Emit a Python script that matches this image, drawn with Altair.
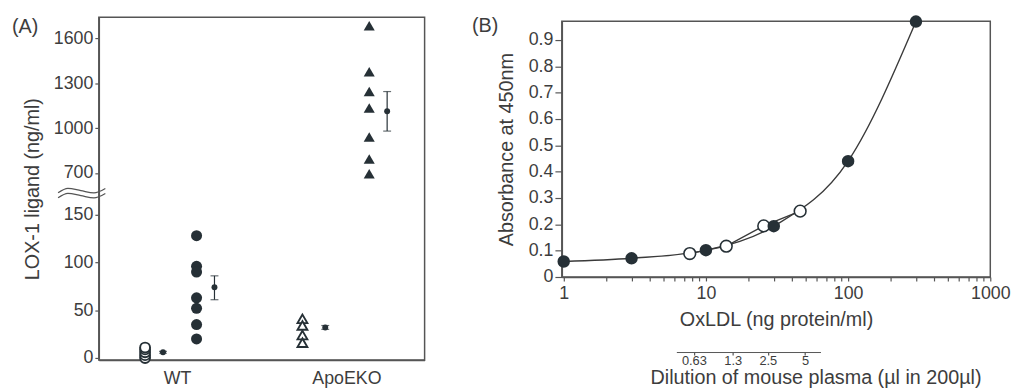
import altair as alt
import pandas as pd

# ---------------- Panel (A): LOX-1 ligand (ng/ml) ----------------
wt_ctrl_vals = [0, 3, 6, 9, 11]
wt_vals = [128, 96, 90, 63, 52, 35, 20]
apo_ctrl_vals = [41, 34, 24, 16]
apo_vals = [1684, 1376, 1244, 1134, 941, 794, 695]
mean_vals = [6, 74, 32, 1112]
mean_lo = [5, 61, 30, 980]
mean_hi = [7, 86, 34, 1244]
a_group_labels = ["WT", "ApoEKO"]
a_ticks_low = [0, 50, 100, 150]
a_ticks_high = [700, 1000, 1300, 1600]

# ---------------- Panel (B): ELISA standard curve ----------------
oxldl_ng = [1, 3, 10, 30, 100, 300]
oxldl_abs = [0.059, 0.071, 0.102, 0.193, 0.44, 0.97]
plasma_ul = [0.63, 1.3, 2.5, 5]
plasma_equiv_ng = [7.7, 13.9, 25.5, 46]
plasma_abs = [0.089, 0.117, 0.194, 0.25]
b_y_ticks = [0, 0.1, 0.2, 0.3, 0.4, 0.5, 0.6, 0.7, 0.8, 0.9]
b_x_decades = [1, 10, 100, 1000]

# ---------------- layout / style constants ----------------
SLOT_X = [1.42, 3.0, 6.25, 8.3]     # x slot of each strip
MEAN_X = [1.97, 3.55, 6.95, 8.85]   # x slot of each mean +/- SE
LABEL_X = [2.4, 7.6]
BREAK_AT = 300                       # broken axis: upper segment compressed
UP_V0, UP_D0, UP_K = 700, 193.6, 0.1567
SQ_X = [-1.25, -0.95, -0.55, -0.15, 0.2]
SQ_OFF = [-2.2, 2.4, 0.0, -2.4, 2.2]
SQ_CENTERS = [175.2, 170.0]

DARK = "#263036"
LINE = "#3a3a3a"
FRAME = "#555555"
TXT = "#3d3d3d"
FONT = "Liberation Sans"


def disp(v):
    return v if v <= BREAK_AT else UP_D0 + (v - UP_V0) * UP_K


def disp_expr(f):
    return f"datum.{f} <= {BREAK_AT} ? datum.{f} : {UP_D0} + (datum.{f} - {UP_V0}) * {UP_K}"


# ---------------- Panel A ----------------
def strip_df(vals, slot):
    return pd.DataFrame({"v": vals, "x": [slot] * len(vals)})

df_wt_ctrl = strip_df(wt_ctrl_vals, SLOT_X[0])
df_wt = strip_df(wt_vals, SLOT_X[1])
df_apo_ctrl = strip_df(apo_ctrl_vals, SLOT_X[2])
df_apo = strip_df(apo_vals, SLOT_X[3])
df_mean = pd.DataFrame({"x": MEAN_X, "v": mean_vals, "lo": mean_lo, "hi": mean_hi})

sq_rows = []
for i, c in enumerate(SQ_CENTERS):
    for xx, o in zip(SQ_X, SQ_OFF):
        sq_rows.append({"line": i, "x": xx, "yd": c + o})
df_sq = pd.DataFrame(sq_rows)

yA_scale = alt.Scale(domain=[-2, 356.5], nice=False, zero=False)
xA_scale = alt.Scale(domain=[0, 10], nice=False, zero=False)
label_expr_A = (
    f"datum.value < 180 ? format(datum.value, 'd') : "
    f"format(round((datum.value - {UP_D0}) / {UP_K} + {UP_V0}), 'd')"
)
yA_axis = alt.Axis(
    values=[disp(t) for t in a_ticks_low + a_ticks_high],
    labelExpr=label_expr_A,
    title="LOX-1 ligand (ng/ml)",
    tickSize=4, labelPadding=2, titlePadding=11,
)
xA_axis = alt.Axis(
    values=LABEL_X,
    labelExpr=f"datum.value < 5 ? '{a_group_labels[0]}' : '{a_group_labels[1]}'",
    ticks=False, labelPadding=10, title=None, labelFlush=False,
)

xA = alt.X("x:Q", scale=xA_scale, axis=xA_axis)
yA = alt.Y("yd:Q", scale=yA_scale, axis=yA_axis)


def pts(df, shape, hollow, size):
    if hollow:
        m = alt.Chart(df).mark_point(shape=shape, filled=True, fill="white", stroke=DARK,
                                     strokeWidth=1.9, size=size, opacity=1)
    else:
        m = alt.Chart(df).mark_point(shape=shape, filled=True, color=DARK, size=size, opacity=1)
    return m.transform_calculate(yd=disp_expr("v")).encode(x=xA, y=yA)


a_wt_ctrl = pts(df_wt_ctrl, "circle", True, 100)
a_wt = pts(df_wt, "circle", False, 125)
a_apo_ctrl = pts(df_apo_ctrl, "triangle-up", True, 100)
a_apo = pts(df_apo, "triangle-up", False, 125)

mean_base = alt.Chart(df_mean).transform_calculate(
    yd=disp_expr("v"), ylo=disp_expr("lo"), yhi=disp_expr("hi")
)
a_err = mean_base.mark_rule(color=DARK, strokeWidth=1.2).encode(
    x=xA, y=alt.Y("ylo:Q", scale=yA_scale, axis=yA_axis), y2="yhi:Q"
)
a_cap_lo = mean_base.mark_tick(orient="horizontal", color=DARK, size=8, thickness=1.2).encode(
    x=xA, y=alt.Y("ylo:Q", scale=yA_scale, axis=yA_axis)
)
a_cap_hi = mean_base.mark_tick(orient="horizontal", color=DARK, size=8, thickness=1.2).encode(
    x=xA, y=alt.Y("yhi:Q", scale=yA_scale, axis=yA_axis)
)
a_mean = mean_base.mark_point(shape="circle", filled=True, color=DARK, size=36, opacity=1).encode(
    x=xA, y=yA
)
a_sq = alt.Chart(df_sq).mark_line(color=FRAME, strokeWidth=1.3, interpolate="monotone").encode(
    x=xA, y=yA, detail="line:N"
)
a_label = alt.Chart(pd.DataFrame({"t": ["(A)"]})).mark_text(
    align="left", baseline="middle", fontSize=20, color=TXT
).encode(x=alt.value(-88), y=alt.value(10), text="t:N")

panel_a = alt.layer(
    a_sq, a_wt_ctrl, a_wt, a_apo_ctrl, a_apo, a_err, a_cap_lo, a_cap_hi, a_mean, a_label
).properties(width=330, height=347)

# ---------------- Panel B ----------------
df_std = pd.DataFrame({"ng": oxldl_ng, "a": oxldl_abs})
df_pl = pd.DataFrame({"ul": plasma_ul, "ng": plasma_equiv_ng, "a": plasma_abs})

b_x_ticks = [d * k for d in b_x_decades[:-1] for k in range(1, 10)] + [b_x_decades[-1]]
dec_list = ",".join(str(d) for d in b_x_decades)
xB = alt.X(
    "ng:Q",
    scale=alt.Scale(type="log", domain=[0.97, 1000], nice=False),
    axis=alt.Axis(
        values=b_x_ticks,
        labelExpr=f"indexof([{dec_list}], datum.value) >= 0 ? format(datum.value, 'd') : ''",
        title="OxLDL (ng protein/ml)", labelFlush=False,
        tickSize=4, labelPadding=4, titlePadding=7,
    ),
)
yB = alt.Y(
    "a:Q",
    scale=alt.Scale(domain=[0, 0.971], nice=False, zero=False),
    axis=alt.Axis(
        values=b_y_ticks,
        labelExpr="datum.value == 0 ? '0' : format(datum.value, '.1f')",
        title="Absorbance at 450nm",
        tickSize=7, labelPadding=2, titlePadding=12,
    ),
)

b_line_std = alt.Chart(df_std).mark_line(interpolate="monotone", color=LINE, strokeWidth=1.4).encode(x=xB, y=yB)
b_line_pl = alt.Chart(df_pl).mark_line(color=LINE, strokeWidth=1.4).encode(x=xB, y=yB)
b_pts_pl = alt.Chart(df_pl).mark_point(shape="circle", filled=True, fill="white", stroke=DARK,
                                       strokeWidth=1.6, size=140, opacity=1).encode(x=xB, y=yB)
b_pts_std = alt.Chart(df_std).mark_point(shape="circle", filled=True, color=DARK,
                                         size=160, opacity=1).encode(x=xB, y=yB)
b_main = alt.layer(b_line_std, b_line_pl, b_pts_pl, b_pts_std)

b_dil = alt.Chart(df_pl).mark_point(opacity=0).encode(
    x=alt.X(
        "ul:Q",
        scale=alt.Scale(type="log", domain=[0.454, 6.68], range=[116, 262], nice=False),
        axis=alt.Axis(
            orient="bottom", offset=76, values=plasma_ul,
            labelExpr="toString(datum.value)", labelFlush=False,
            title="Dilution of mouse plasma (µl in 200µl)",
            titleX=257, titleY=26, titleAlign="center", titleBaseline="middle",
            tickSize=3, labelPadding=0,
            labelFontSize=13, titleFontSize=20, domainWidth=1,
        ),
    ),
    y=yB,
)
b_label = alt.Chart(pd.DataFrame({"t": ["(B)"]})).mark_text(
    align="left", baseline="middle", fontSize=20, color=TXT
).encode(x=alt.value(-91), y=alt.value(5), text="t:N")

panel_b = alt.layer(b_main, b_dil, b_label).resolve_scale(x="independent").properties(
    width=434, height=259
)

# empty 1-px strip above panel B: lowers panel B's frame a few pixels below panel A's
spacer = alt.Chart(alt.Data(values=[])).mark_point(opacity=0).encode(
    x=alt.X("z:Q", axis=None), y=alt.Y("z:Q", axis=None)
).properties(width=434, height=1, view=alt.ViewBackground(stroke="transparent"))

panel_b_col = alt.vconcat(spacer, panel_b, spacing=3, bounds="flush")

chart = (
    alt.hconcat(panel_a, panel_b_col, spacing=46)
    .properties(padding={"left": 3, "top": 4, "right": 2, "bottom": 0})
    .configure(font=FONT)
    .configure_view(stroke=FRAME, strokeWidth=1.5)
    .configure_axis(
        domainColor=FRAME, tickColor=FRAME, labelColor=TXT, titleColor=TXT,
        labelFontSize=18, titleFontSize=20, titleFontWeight="normal",
        grid=False, domainWidth=1.5, tickWidth=1.2, labelFont=FONT, titleFont=FONT,
    )
)

chart.save("out.html", embed_options={"renderer": "svg", "actions": False})
